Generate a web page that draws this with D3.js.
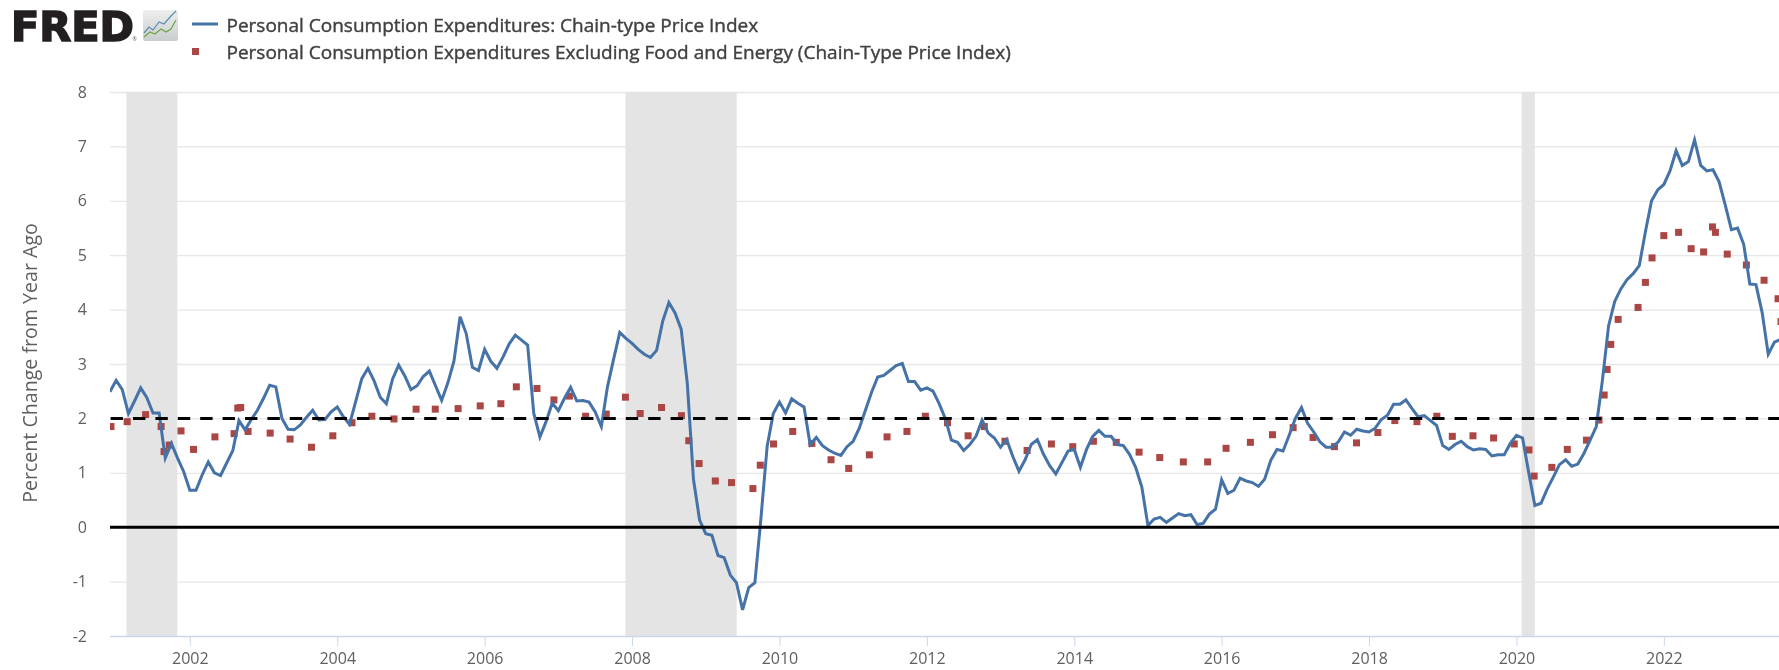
<!DOCTYPE html>
<html><head><meta charset="utf-8">
<script src="https://cdn.jsdelivr.net/npm/d3@7"></script>
<style>
html,body{margin:0;padding:0;background:#fff;overflow:hidden}
svg{display:block;font-family:"Open Sans",sans-serif;filter:blur(.55px)}
</style></head><body>
<svg id="c" width="1779" height="670"></svg>
<script>
const seriesNames = ["Personal Consumption Expenditures: Chain-type Price Index",
  "Personal Consumption Expenditures Excluding Food and Energy (Chain-Type Price Index)"];
const yTitle = "Percent Change from Year Ago";
const yTicks = [-2,-1,0,1,2,3,4,5,6,7,8];
const xTicks = [2002,2004,2006,2008,2010,2012,2014,2016,2018,2020,2022];
const recessions = [[2001.14,2001.83],[2007.91,2009.42],[2020.07,2020.25]];
const targetLevel = 2, zeroLevel = 0;

// Monthly values, Dec 2000 to Aug 2023
const headlineValues = [2.49,
 2.70,2.53,2.09,2.32,2.56,2.38,2.10,2.10,1.27,1.54,1.27,1.02,
 .68,.68,.96,1.2,1.0,.95,1.18,1.41,1.96,1.79,1.98,2.15,
 2.37,2.61,2.58,2.0,1.8,1.79,1.88,2.02,2.15,1.97,1.98,2.12,
 2.21,2.03,1.89,2.31,2.73,2.92,2.69,2.39,2.27,2.72,2.98,2.78,
 2.53,2.6,2.77,2.87,2.6,2.33,2.65,3.05,3.87,3.56,2.94,2.88,
 3.27,3.05,2.92,3.13,3.37,3.53,3.44,3.35,2.09,1.66,1.94,2.28,
 2.14,2.37,2.57,2.32,2.33,2.30,2.12,1.85,2.58,3.09,3.58,3.47,
 3.38,3.27,3.18,3.12,3.25,3.79,4.13,3.94,3.64,2.64,.88,.13,
 -.12,-.15,-.52,-.56,-.88,-1.02,-1.52,-1.11,-1.02,.18,1.49,2.09,
 2.30,2.10,2.36,2.28,2.21,1.52,1.65,1.5,1.42,1.36,1.32,1.48,
 1.58,1.82,2.15,2.48,2.76,2.79,2.88,2.97,3.01,2.68,2.68,2.52,
 2.56,2.5,2.27,2.0,1.6,1.56,1.41,1.52,1.67,1.97,1.73,1.64,
 1.47,1.61,1.30,1.03,1.24,1.52,1.61,1.34,1.13,.98,1.19,1.4,
 1.43,1.1,1.43,1.67,1.78,1.67,1.67,1.52,1.5,1.34,1.1,.74,
 .03,.15,.18,.09,.17,.25,.21,.23,.05,.07,.24,.33,
 .87,.62,.68,.9,.85,.82,.75,.88,1.23,1.43,1.4,1.69,
 2.0,2.2,1.91,1.75,1.57,1.47,1.47,1.57,1.75,1.69,1.8,1.77,
 1.75,1.82,1.98,2.06,2.26,2.26,2.34,2.18,2.03,2.05,1.96,1.87,
 1.5,1.43,1.52,1.58,1.48,1.42,1.44,1.43,1.31,1.33,1.33,1.54,
 1.69,1.64,1.0,.4,.44,.7,.92,1.15,1.24,1.12,1.16,1.36,
 1.6,1.85,2.7,3.7,4.15,4.38,4.55,4.66,4.81,5.43,6.0,6.2,
 6.3,6.55,6.92,6.65,6.72,7.12,6.65,6.55,6.57,6.35,5.92,5.47,
 5.5,5.2,4.47,4.46,3.95,3.18,3.4,3.45];

// Core series as visible in the picture: one reading per visible dot
const coreYears = [2000.93,2001.15,2001.40,2001.61,2001.65,2001.72,2001.88,2002.05,2002.34,2002.60,2002.65,2002.69,2002.79,
 2003.09,2003.36,2003.65,2003.94,2004.20,2004.47,2004.77,2005.07,2005.33,2005.64,2005.94,2006.22,2006.43,2006.71,2006.94,
 2007.15,2007.37,2007.65,2007.91,2008.11,2008.40,2008.67,2008.77,2008.91,2009.13,2009.35,2009.64,2009.74,2009.92,
 2010.18,2010.44,2010.70,2010.94,2011.22,2011.46,2011.73,2011.98,2012.28,2012.56,2012.78,2013.06,2013.36,2013.69,2013.98,
 2014.26,2014.57,2014.88,2015.16,2015.48,2015.81,2016.06,2016.39,2016.69,2016.97,2017.24,2017.53,2017.83,
 2018.12,2018.35,2018.65,2018.92,2019.13,2019.41,2019.69,2019.97,2020.17,2020.24,2020.48,2020.69,2020.95,
 2021.12,2021.19,2021.23,2021.28,2021.38,2021.65,2021.75,2021.84,2022.00,2022.20,2022.37,2022.54,2022.66,2022.70,2022.86,
 2023.12,2023.36,2023.55,2023.59];
const coreValues = [1.85,1.94,2.07,1.85,1.39,1.51,1.77,1.43,1.66,1.72,2.19,2.2,1.76,
 1.73,1.62,1.47,1.68,1.92,2.04,1.99,2.17,2.17,2.18,2.23,2.27,2.58,2.55,2.34,
 2.41,2.04,2.08,2.39,2.09,2.2,2.05,1.59,1.17,.85,.82,.71,1.14,1.53,
 1.76,1.54,1.24,1.08,1.33,1.66,1.76,2.04,1.92,1.68,1.85,1.58,1.41,1.53,1.48,
 1.58,1.56,1.38,1.28,1.2,1.2,1.45,1.56,1.7,1.83,1.65,1.48,1.55,
 1.74,1.96,1.94,2.04,1.67,1.68,1.64,1.53,1.42,.94,1.1,1.43,1.6,
 1.97,2.43,2.9,3.36,3.82,4.04,4.5,4.95,5.36,5.42,5.12,5.06,5.52,5.42,5.02,
 4.82,4.54,4.2,3.78];

const firstMonth = 2000 + 11/12;
const headline = headlineValues.map((v,i)=>({t:firstMonth+i/12,v}));
const core = coreValues.map((v,i)=>({t:coreYears[i],v}));

const W=1779, H=670, L=110, T=92, B=636;
const svg=d3.select("#c");
const x=d3.scaleLinear().domain([firstMonth,firstMonth+272/12]).range([L,L+22.6667*73.7]);
const y=d3.scaleLinear().domain([-2,8]).range([B,T]);
const tickText=d=>String(d);

svg.append("defs").append("clipPath").attr("id","plot").append("rect")
  .attr("x",L).attr("y",T-10).attr("width",W-L).attr("height",B-T+20);
const grad=svg.select("defs").append("linearGradient").attr("id","icon").attr("x1",0).attr("y1",0).attr("x2",0).attr("y2",1);
grad.append("stop").attr("offset",0).attr("stop-color","#eeeeee");
grad.append("stop").attr("offset",1).attr("stop-color","#c9cdcd");

// horizontal grid
svg.append("g").selectAll("line").data(yTicks.filter(d=>d>-2)).join("line")
  .attr("x1",L).attr("x2",W).attr("y1",d=>y(d)+.5).attr("y2",d=>y(d)+.5)
  .attr("stroke","#e6e6e6").attr("stroke-width",1.3);

// recession bands
svg.append("g").selectAll("rect").data(recessions).join("rect")
  .attr("x",d=>x(d[0])).attr("width",d=>x(d[1])-x(d[0]))
  .attr("y",T).attr("height",B-T).attr("fill","#e4e4e4");

// axes
const xAxis=d3.axisBottom(x).tickValues(xTicks).tickFormat(tickText).tickSize(10).tickPadding(7);
const gx=svg.append("g").attr("transform",`translate(0,${B})`).call(xAxis);
gx.select(".domain").attr("stroke","#ccd6eb").attr("stroke-width",1.3).attr("d",`M${L},0.5H${W}`);
gx.selectAll(".tick line").attr("stroke","#ccd6eb");
gx.selectAll("text").attr("fill","#5f5f5f").attr("font-size",16).attr("font-family",'"Open Sans",sans-serif');

const yAxis=d3.axisLeft(y).tickValues(yTicks).tickFormat(tickText).tickSize(0).tickPadding(0);
const gy=svg.append("g").attr("transform","translate(87,0)").call(yAxis);
gy.select(".domain").remove();
gy.selectAll("text").attr("fill","#5f5f5f").attr("font-size",16).attr("font-family",'"Open Sans",sans-serif');

svg.append("text").attr("transform",`translate(37,${363}) rotate(-90)`)
  .attr("text-anchor","middle").attr("font-size",19.6).attr("fill","#5f5f5f").text(yTitle);

// series
const plot=svg.append("g").attr("clip-path","url(#plot)");
plot.selectAll("rect.core").data(core).join("rect").attr("class","core")
  .attr("x",d=>x(d.t)-3.5).attr("y",d=>y(d.v)-3.5).attr("width",7).attr("height",7)
  .attr("fill","#aa4643");
const line=d3.line().x(d=>x(d.t)).y(d=>y(d.v));
plot.append("path").datum(headline).attr("d",line).attr("fill","none")
  .attr("stroke","#4572a7").attr("stroke-width",3).attr("stroke-linejoin","miter");

// reference lines
plot.append("line").attr("x1",L+.6).attr("x2",W).attr("y1",y(targetLevel)).attr("y2",y(targetLevel))
  .attr("stroke","#000").attr("stroke-width",3).attr("stroke-dasharray","12.4 10");
plot.append("line").attr("x1",L).attr("x2",W).attr("y1",y(zeroLevel)).attr("y2",y(zeroLevel))
  .attr("stroke","#000").attr("stroke-width",3);

// legend
const lg=svg.append("g").attr("font-size",19).attr("fill","#404040");
lg.append("line").attr("x1",192).attr("x2",218).attr("y1",24).attr("y2",24).attr("stroke","#4572a7").attr("stroke-width",3);
lg.append("rect").attr("x",192).attr("y",48).attr("width",7).attr("height",7).attr("fill","#aa4643");
lg.append("text").attr("x",226.5).attr("y",32).attr("stroke","#404040").attr("stroke-width",.4).text(seriesNames[0]);
lg.append("text").attr("x",226.5).attr("y",59).attr("stroke","#404040").attr("stroke-width",.4).text(seriesNames[1]);

// logo
const logo=svg.append("g");
logo.append("text").attr("x",11).attr("y",40.5).attr("font-family","'DejaVu Sans',sans-serif").attr("font-weight",700)
  .attr("font-size",41).attr("fill","#231f20").attr("stroke","#231f20").attr("stroke-width",1.6)
  .attr("textLength",123).attr("lengthAdjust","spacingAndGlyphs").text("FRED");
logo.append("text").attr("x",132.5).attr("y",41).attr("font-size",5).attr("fill","#555").text("®");
logo.append("rect").attr("x",143).attr("y",10).attr("width",35).attr("height",31).attr("rx",2).attr("fill","url(#icon)");
const iconA=[[144,33],[149,27],[153,30],[159,22],[164,24],[171,16],[176,11]];
const iconB=[[144,37],[150,32],[155,34],[161,29],[166,32],[171,29],[176,20]];
const il=d3.line();
logo.append("path").attr("d",il(iconA)).attr("fill","none").attr("stroke","#5b8db0").attr("stroke-width",1.2);
logo.append("path").attr("d",il(iconB)).attr("fill","none").attr("stroke","#6ea344").attr("stroke-width",1.2);
</script>
</body></html>
